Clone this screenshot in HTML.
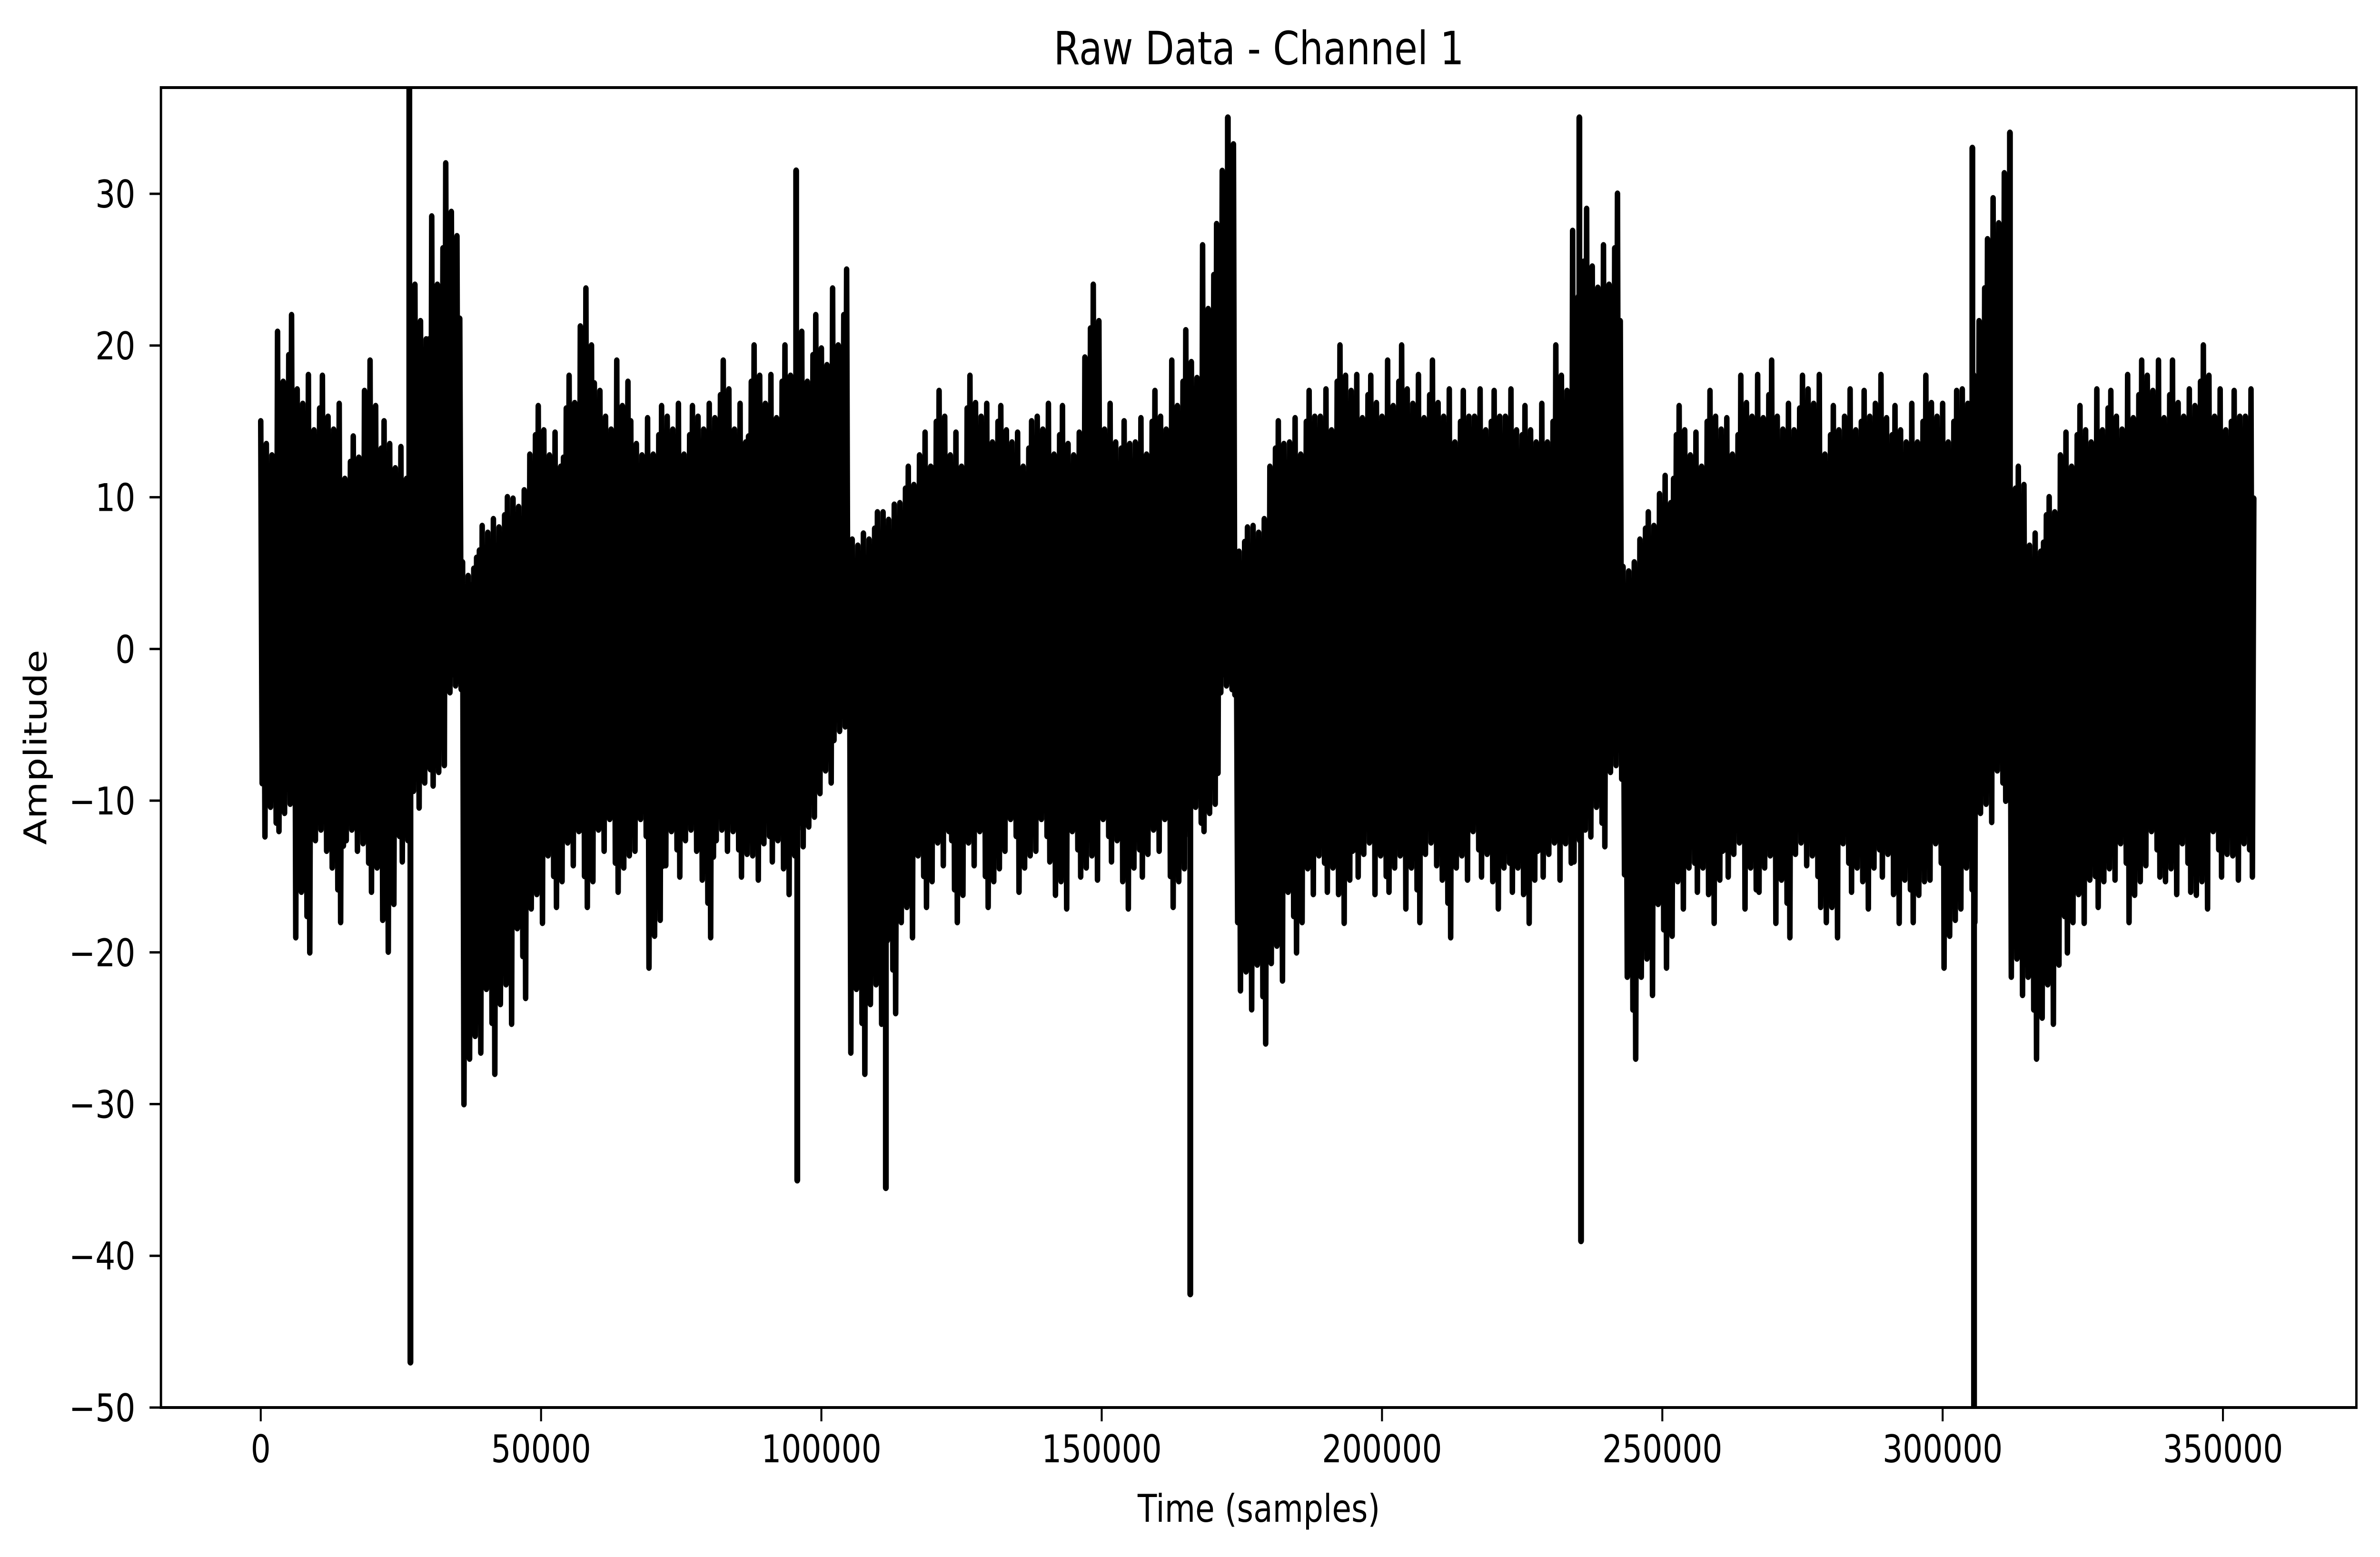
<!DOCTYPE html>
<html><head><meta charset="utf-8"><style>
html,body{margin:0;padding:0;background:#fff;width:100%;height:100%;overflow:hidden;}
svg{display:block;width:100vw;height:100vh;}
text{font-family:"DejaVu Sans","Liberation Sans",sans-serif;fill:#000;}
</style></head><body>
<svg id="chart" viewBox="0 0 6048 3271" preserveAspectRatio="none" xmlns="http://www.w3.org/2000/svg">
<rect x="0" y="0" width="6048" height="3271" fill="#fff"/>
<text x="3199" y="135" font-size="96" text-anchor="middle">Raw Data - Channel 1</text>
<text x="3199" y="3197" font-size="80" text-anchor="middle">Time (samples)</text>
<text transform="translate(118,1570) rotate(-90)" font-size="80" text-anchor="middle">Amplitude</text>
<defs><clipPath id="plotclip"><rect x="409" y="184" width="5579" height="2773"/></clipPath></defs>
<g id="series" clip-path="url(#plotclip)"></g>
<g id="axes"></g>
</svg>
<script>
const binSize = 3000;
const hiValues = [15,22,19,18,17,14,20,15,14,24,30,32,6,9,10,11,16,15,18,25,17,20,15,16,17,16,17,19,17,20,19,20,22,22,25,8,9,10,12,15,17,15,18,17,16,15,17,16,15,24,17,15,16,17,20,21,28,35,8,9,15,16,17,18,20,19,18,20,19,19,18,17,18,17,18,16,17,20,29,28,30,6,9,12,16,15,17,16,18,19,17,18,19,16,18,17,19,16,17,18,17,19,27,33,12,8,10,15,16,18,17,19,20,19,18,20,18,17,18];
const loValues = [-13,-12,-20,-14,-18,-14,-16,-21,-14,-11,-9,-3,-30,-28,-26,-23,-19,-17,-15,-17,-14,-16,-14,-21,-15,-14,-19,-14,-15,-16,-14,-17,-13,-10,-6,-28,-26,-24,-20,-17,-15,-18,-15,-17,-14,-16,-14,-18,-15,-16,-14,-18,-15,-14,-17,-13,-12,-3,-25,-26,-23,-20,-17,-16,-19,-15,-17,-16,-18,-15,-19,-16,-15,-18,-16,-19,-15,-16,-14,-13,-9,-27,-24,-21,-18,-16,-19,-15,-18,-16,-19,-15,-17,-20,-16,-18,-15,-19,-18,-16,-21,-18,-12,-10,-24,-27,-26,-20,-19,-17,-16,-18,-15,-17,-16,-18,-15,-16,-15];
const spikeX = [26500,26700,95500,95700,111500,165800,172500,235200,235500,305300,305600,312000];
const spikeY = [38,-47,31.5,-35,-35.5,-42.5,35,35,-39,33,-52,34];
const xTicks = [0,50000,100000,150000,200000,250000,300000,350000];
const xTickLabels = ["0","50000","100000","150000","200000","250000","300000","350000"];
const yTicks = [-50,-40,-30,-20,-10,0,10,20,30];
const yTickLabels = ["\u221250","\u221240","\u221230","\u221220","\u221210","0","10","20","30"];

const X0=409,X1=5988,Y0=184,Y1=2957;
const xMin=-17800,xMax=373800,yMin=-50,yMax=37;
function sx(v){return X0+(v-xMin)/(xMax-xMin)*(X1-X0);}
function sy(v){return Y1-(v-yMin)/(yMax-yMin)*(Y1-Y0);}
const NS="http://www.w3.org/2000/svg";
const series=document.getElementById('series');
const axes=document.getElementById('axes');

const tex=[1,0.72,0.9,0.6,0.85,0.68,0.95,0.55,0.8,0.7,0.88];
let pts=[];const step=250;const nEnd=binSize*hiValues.length-binSize/2;
let i=0;
for(let s=0;s<=nEnd;s+=step,i++){
  const b=Math.min(hiValues.length-1,Math.floor(s/binSize));
  const f=tex[Math.floor(i/2)%tex.length];
  const v=(i%2===0)?hiValues[b]*f:loValues[b]*tex[(Math.floor(i/2)+5)%tex.length];
  pts.push(sx(s).toFixed(1)+','+sy(v).toFixed(1));
}
const pl=document.createElementNS(NS,'polyline');
pl.setAttribute('points',pts.join(' '));
pl.setAttribute('fill','none');pl.setAttribute('stroke','#000');
pl.setAttribute('stroke-width','14');pl.setAttribute('stroke-linejoin','round');pl.setAttribute('stroke-linecap','round');


series.appendChild(pl);
for(let k=0;k<spikeX.length;k++){
  const ln=document.createElementNS(NS,'line');
  ln.setAttribute('x1',sx(spikeX[k]));ln.setAttribute('x2',sx(spikeX[k]));
  ln.setAttribute('y1',sy(0));ln.setAttribute('y2',sy(spikeY[k]));
  ln.setAttribute('stroke','#000');ln.setAttribute('stroke-width','15');ln.setAttribute('stroke-linecap','round');
  
  
  series.appendChild(ln);
}
const fr=document.createElementNS(NS,'rect');
fr.setAttribute('x',X0);fr.setAttribute('y',Y0);fr.setAttribute('width',X1-X0);fr.setAttribute('height',Y1-Y0);
fr.setAttribute('fill','none');fr.setAttribute('stroke','#000');fr.setAttribute('stroke-width','6');


axes.appendChild(fr);
for(let k=0;k<xTicks.length;k++){
  const x=sx(xTicks[k]);
  const t=document.createElementNS(NS,'line');
  t.setAttribute('x1',x);t.setAttribute('x2',x);t.setAttribute('y1',Y1);t.setAttribute('y2',Y1+29);
  t.setAttribute('stroke','#000');t.setAttribute('stroke-width','5');
  
  
  axes.appendChild(t);
  const tx=document.createElementNS(NS,'text');
  tx.setAttribute('x',x);tx.setAttribute('y',3072);tx.setAttribute('font-size','80');tx.setAttribute('text-anchor','middle');
  tx.textContent=xTickLabels[k];
  
  
  axes.appendChild(tx);
}
for(let k=0;k<yTicks.length;k++){
  const y=sy(yTicks[k]);
  const t=document.createElementNS(NS,'line');
  t.setAttribute('x1',X0-29);t.setAttribute('x2',X0);t.setAttribute('y1',y);t.setAttribute('y2',y);
  t.setAttribute('stroke','#000');t.setAttribute('stroke-width','5');
  
  
  axes.appendChild(t);
  const tx=document.createElementNS(NS,'text');
  tx.setAttribute('x',344);tx.setAttribute('y',y+29);tx.setAttribute('font-size','80');tx.setAttribute('text-anchor','end');
  tx.textContent=yTickLabels[k];
  
  
  axes.appendChild(tx);
}
</script>
</body></html>
